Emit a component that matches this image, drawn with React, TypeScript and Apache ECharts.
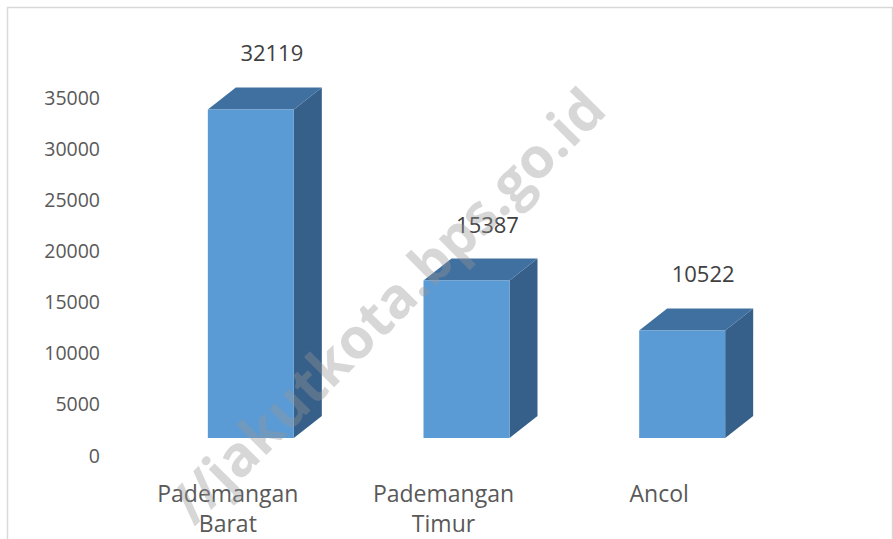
import React, { useEffect, useRef } from "react";
import * as echarts from "echarts";

const categories = ["Pademangan\nBarat", "Pademangan\nTimur", "Ancol"];
const values = [32119, 15387, 10522];
const yMin = 0;
const yMax = 35000;
const yInterval = 5000;
const watermark = "//jakutkota.bps.go.id";

const FONT = "'Open Sans', 'Noto Sans', sans-serif";

export default function App() {
  const ref = useRef<HTMLDivElement>(null);
  useEffect(() => {
    if (!ref.current) return;
    const chart = echarts.init(ref.current, undefined, { renderer: "svg" });
    const option: any = {
      animation: false,
      backgroundColor: "#ffffff",
      grid: { left: 120, right: 126, top: 97, bottom: 84, outerBoundsMode: "none", containLabel: false },
      xAxis: {
        type: "category",
        data: categories,
        axisLine: { show: false },
        axisTick: { show: false },
        axisLabel: {
          color: "#595959",
          fontSize: 23,
          fontFamily: FONT,
          lineHeight: 30,
          margin: 23,
          interval: 0,
        },
      },
      yAxis: {
        type: "value",
        min: yMin,
        max: yMax,
        interval: yInterval,
        axisLine: { show: false },
        axisTick: { show: false },
        splitLine: { show: false },
        axisLabel: {
          color: "#595959",
          fontSize: 19.5,
          fontFamily: FONT,
          margin: 20,
          formatter: (v: number) => String(v),
        },
      },
      series: [
        {
          type: "custom",
          data: values.map((v, i) => [i, v]),
          encode: { x: 0, y: 1 },
          renderItem: (params: any, api: any) => {
            const i = api.value(0);
            const v = api.value(1);
            const base = api.coord([i, 0]);
            const top = api.coord([i, v]);
            const cx = base[0] + 23;
            const w = 86;
            const dx = 28;
            const dy = 22;
            const lift = 17;
            const x0 = cx - w / 2;
            const x1 = cx + w / 2;
            const yb = base[1] - lift;
            const yt = top[1] - lift;
            return {
              type: "group",
              children: [
                {
                  type: "polygon",
                  shape: { points: [[x1, yb], [x1 + dx, yb - dy], [x1 + dx, yt - dy], [x1, yt]] },
                  style: { fill: "#365F8A" },
                },
                {
                  type: "polygon",
                  shape: { points: [[x0, yt], [x0 + dx, yt - dy], [x1 + dx, yt - dy], [x1, yt]] },
                  style: { fill: "#4070A0" },
                },
                {
                  type: "rect",
                  shape: { x: x0, y: yt, width: w, height: yb - yt },
                  style: { fill: "#5B9BD5" },
                },
                {
                  type: "text",
                  style: {
                    text: String(v),
                    x: cx + 21,
                    y: yt - dy - 35,
                    align: "center",
                    verticalAlign: "middle",
                    fontSize: 22,
                    fontFamily: FONT,
                    fill: "#404040",
                  },
                },
              ],
            };
          },
        },
      ],
      graphic: [
        {
          type: "rect",
          left: 5,
          top: 5,
          shape: { x: 0, y: 0, width: 885, height: 560 },
          style: { fill: "none", stroke: "#d9d9d9", lineWidth: 1.5 },
          silent: true,
        },
        {
          type: "text",
          x: 386,
          y: 304,
          rotation: Math.PI / 4,
          z: 100,
          silent: true,
          style: {
            text: watermark,
            fontSize: 56,
            fontWeight: "bold",
            fontFamily: FONT,
            fill: "rgba(150,150,150,0.38)",
            align: "center",
            verticalAlign: "middle",
          },
        },
      ],
    };
    chart.setOption(option);
    return () => chart.dispose();
  }, []);
  return (
    <div
      ref={ref}
      style={{ position: "absolute", left: 0, top: 0, width: 893, height: 539 }}
    />
  );
}
